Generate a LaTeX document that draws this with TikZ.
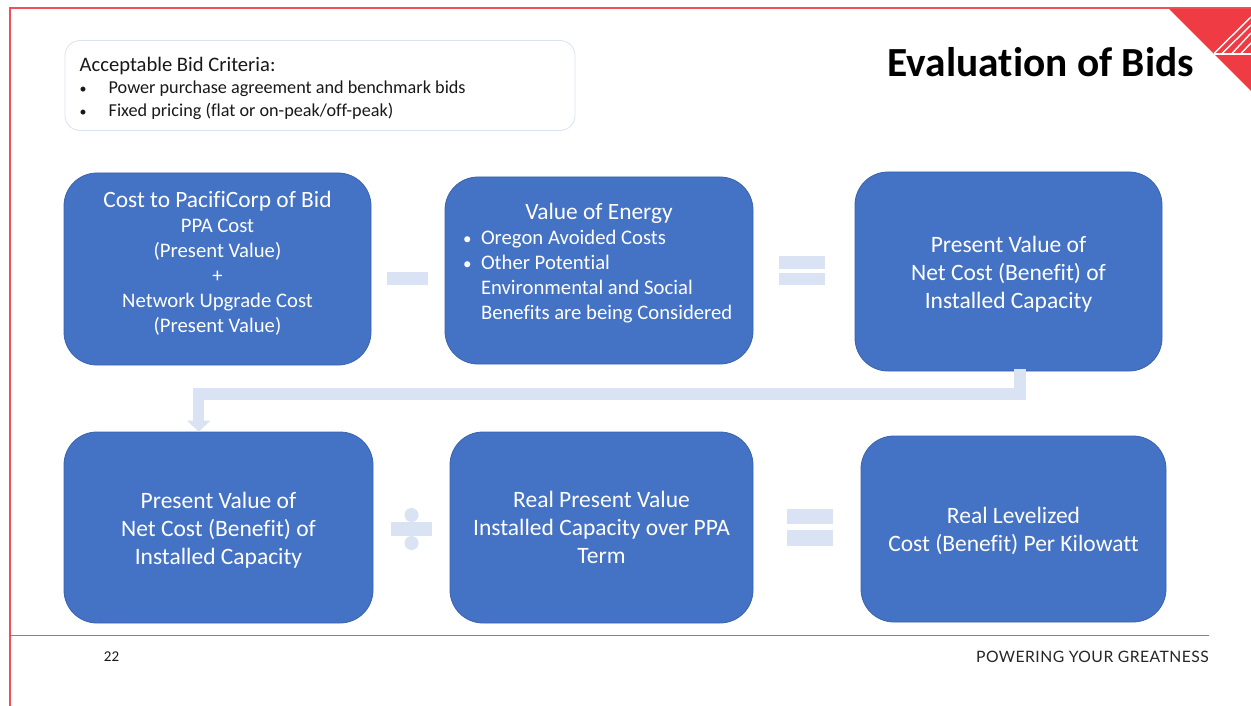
\documentclass[tikz,border=0pt]{standalone}
\usepackage{fontspec}
\setmainfont[Ligatures=NoCommon]{Carlito}
\newfontfamily\footfont[LetterSpace=3]{Lato}
\usetikzlibrary{arrows.meta}
\definecolor{boxblue}{HTML}{4472C4}
\definecolor{boxedge}{HTML}{3A63AE}
\definecolor{pale}{HTML}{DAE3F3}
\definecolor{brandred}{HTML}{EF3B44}
\definecolor{footrule}{HTML}{E85A60}
\newcommand{\smallbullet}[2]{\makebox[#1][l]{\fontsize{#2}{#2}\selectfont•}}
\tikzset{
  bluebox/.style={draw=boxedge,line width=0.8pt,fill=boxblue,rounded corners=33pt,text=white,inner sep=0pt,align=center},
  bodytext/.style={font=\fontsize{20.7}{25}\selectfont},
  bigtext/.style={font=\fontsize{23.5}{28}\selectfont},
  pale shape/.style={fill=pale,draw=none},
  flowarrow/.style={draw=pale,line width=11.5pt,-{Triangle[width=23pt,length=11pt]}},
  framered/.style={draw=brandred!90!white,line width=2pt},
  logoline/.style={draw=white,line width=1.4pt}
}
\begin{document}
\begin{tikzpicture}[x=1pt,y=-1pt]
\useasboundingbox (0,0) rectangle (1251,706);
\fill[white] (0,0) rectangle (1251,706);
% frame
\draw[framered] (1251,8.5) -- (9.5,8.5) -- (9.5,706);
\draw[footrule,line width=1.6pt] (11,635.5) -- (1209,635.5);
% logo
\fill[brandred] (1169,9) -- (1251,9) -- (1251,91) -- cycle;
\draw[logoline] (1214,53.5) -- (1251,17);
\draw[logoline] (1222,53.5) -- (1251,25);
\draw[logoline] (1232,53.5) -- (1251,33);
\draw[logoline] (1241,53.5) -- (1251,43);
\draw[logoline] (1214,54) -- (1251,54);
% criteria
\node[draw=pale,line width=0.8pt,fill=white,rounded corners=15pt,minimum width=510pt,minimum height=90pt,inner sep=0pt] (crit) at (320,85.5) {};
\node[anchor=west,inner sep=0pt,font=\fontsize{20.6}{24}\selectfont,text=black!90] (crittitle) at (79.5,66) {Acceptable Bid Criteria:};
\node[anchor=west,inner sep=0pt,align=left,font=\fontsize{18.2}{23}\selectfont,text=black!90] (critlist) at (79.5,100.5) {\smallbullet{29pt}{14}Power purchase agreement and benchmark bids\\\smallbullet{29pt}{14}Fixed pricing (flat or on-peak/off-peak)};
% title
\node[anchor=base east,inner sep=0pt,font=\bfseries\fontsize{41.4}{44}\selectfont] (title) at (1194,76.5) {Evaluation of Bids};
% boxes
\node[bluebox,bodytext,minimum width=307pt,minimum height=192pt] (a) at (217.5,269) {\parbox{300pt}{\centering{\fontsize{23.4}{25}\selectfont Cost to PacifiCorp of Bid}\par PPA Cost\par (Present Value)\par +\par Network Upgrade Cost\par (Present Value)\vspace*{12pt}}};
\node[bluebox,bodytext,minimum width=308pt,minimum height=187pt] (b) at (599,270.5) {\hspace*{-2pt}\parbox{270pt}{\centering{\fontsize{23.4}{25}\selectfont\hspace*{2pt}Value of Energy}\par
  \raggedright\leftskip=18pt\parindent=-18pt \smallbullet{18pt}{17}Oregon Avoided Costs\par
  \smallbullet{18pt}{17}Other Potential\par \parindent=0pt Environmental and Social\par Benefits are being Considered\vspace*{14pt}}};
\node[bluebox,bigtext,minimum width=307pt,minimum height=199pt] (c) at (1008.5,271.5) {\rule{0pt}{21pt}Present Value of\\Net Cost (Benefit) of\\Installed Capacity};
\node[bluebox,bigtext,minimum width=309pt,minimum height=191pt] (d) at (218.5,527.5) {\rule{0pt}{21pt}Present Value of\\Net Cost (Benefit) of\\Installed Capacity};
\node[bluebox,bigtext,minimum width=303pt,minimum height=191pt] (e) at (601.5,527.5) {Real Present Value\\Installed Capacity over PPA\\Term};
\node[bluebox,bigtext,minimum width=305pt,minimum height=186pt] (f) at (1013.5,529) {\rule{0pt}{21pt}Real Levelized\\Cost (Benefit) Per Kilowatt};
% operators
\fill[pale shape] (387,272) rectangle (428,285);
\fill[pale shape] (779,256) rectangle (825,269);
\fill[pale shape] (779,273) rectangle (825,285);
\fill[pale shape] (787,509) rectangle (833,524);
\fill[pale shape] (787,530) rectangle (833,546);
\fill[pale shape] (391,522) rectangle (432,536);
\fill[pale shape] (411.5,515) circle (7pt);
\fill[pale shape] (411.5,543) circle (7pt);
% connector
\coordinate (cout) at ([xshift=11.5pt]c.south);
\coordinate (din) at ([xshift=-19.8pt]d.north);
\draw[flowarrow] ([yshift=2pt]cout) |- (398pt,-394pt) -| (din);
% footer
\node[inner sep=0pt,font=\fontsize{15}{16}\selectfont,text=black!90] (page) at (111.5,657) {22};
\node[anchor=east,inner sep=0pt,font=\footfont\fontsize{15.7}{16}\selectfont,text=black!85] (tag) at (1209,657) {POWERING YOUR GREATNESS};
\end{tikzpicture}
\end{document}
